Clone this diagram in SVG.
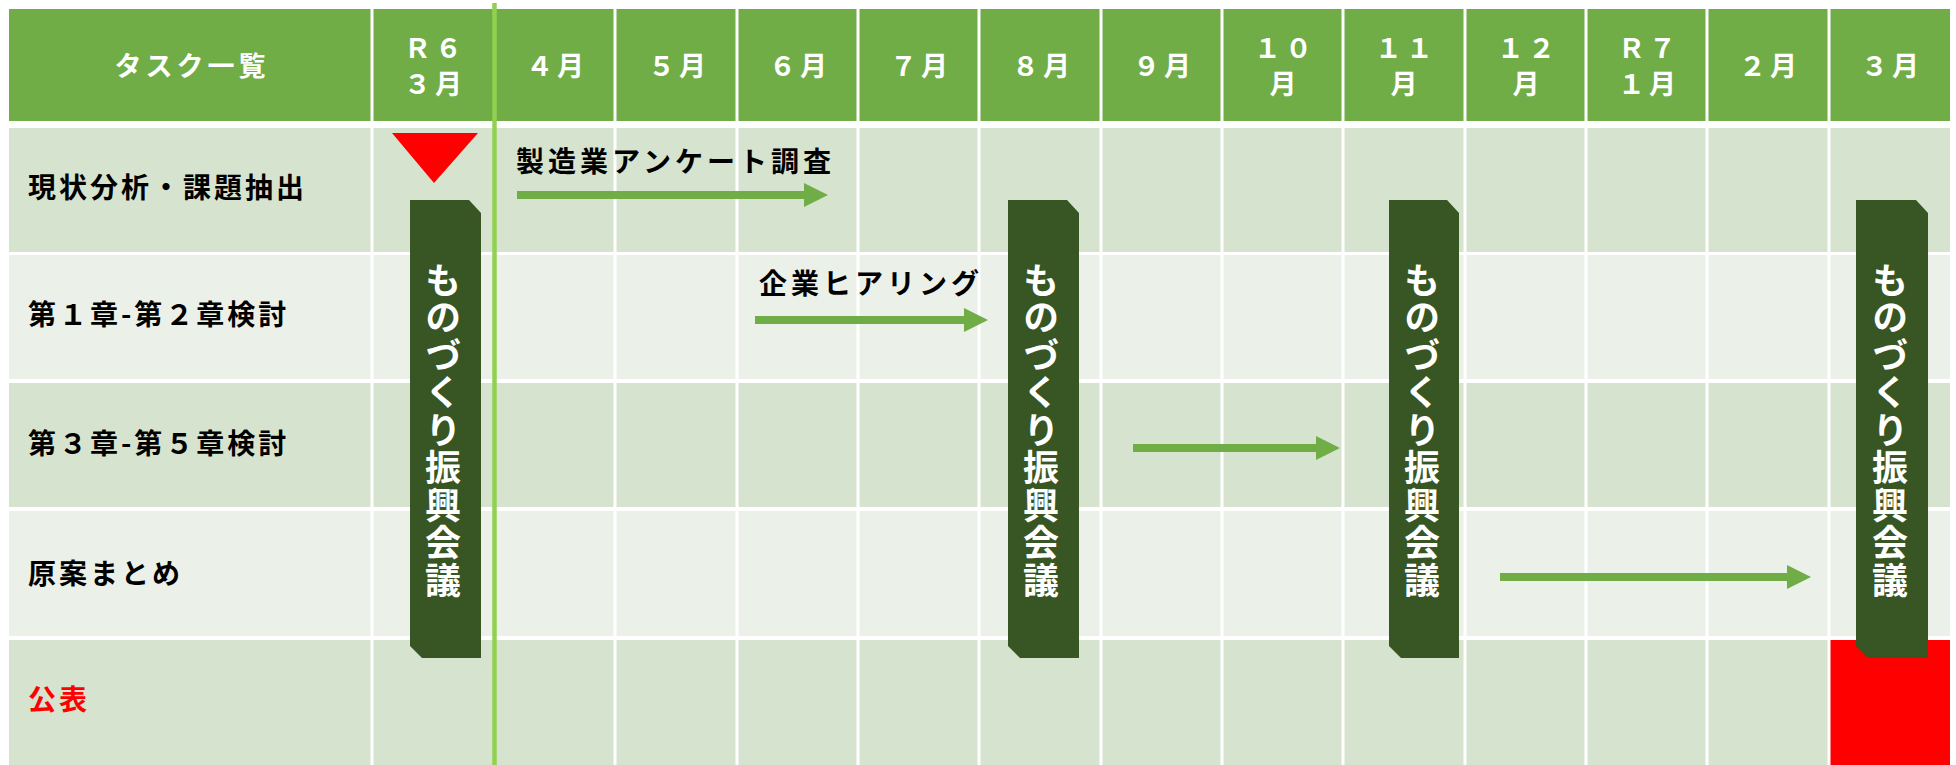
<svg xmlns="http://www.w3.org/2000/svg" width="1956" height="765" viewBox="0 0 1956 765">
<style>
.hd{fill:#70AD47}
.r1{fill:#D6E3CF}
.r2{fill:#EBF0E8}
.gl{stroke:#FFFFFF;stroke-width:3}
.ht{font-family:"Noto Sans CJK JP","Noto Sans",sans-serif;font-weight:bold;font-size:27px;fill:#FFFFFF;text-anchor:middle;letter-spacing:4px}
.lt{font-family:"Noto Sans CJK JP","Noto Sans",sans-serif;font-weight:bold;font-size:28px;fill:#000000;letter-spacing:3px}
.al{letter-spacing:4px}
.bar{fill:#375623}
.bt{font-family:"Noto Sans CJK JP","Noto Sans",sans-serif;font-weight:bold;font-size:36px;fill:#FFFFFF;text-anchor:middle;writing-mode:vertical-rl;letter-spacing:1.5px}
.arr{fill:#70AD47}
</style>
<rect width="1956" height="765" fill="#FFFFFF"/>
<g id="table">
<rect class="hd" x="9" y="9" width="1941" height="112"/>
<rect class="r1" x="9" y="128" width="1941" height="124"/>
<rect class="r2" x="9" y="255" width="1941" height="124"/>
<rect class="r1" x="9" y="383" width="1941" height="124"/>
<rect class="r2" x="9" y="511" width="1941" height="125"/>
<rect class="r1" x="9" y="640" width="1941" height="125"/>
<rect x="1830" y="640" width="120" height="125" fill="#FF0000"/>
<g class="gl">
<line x1="372" y1="9" x2="372" y2="765"/>
<line x1="615" y1="9" x2="615" y2="765"/>
<line x1="737" y1="9" x2="737" y2="765"/>
<line x1="858" y1="9" x2="858" y2="765"/>
<line x1="979" y1="9" x2="979" y2="765"/>
<line x1="1101" y1="9" x2="1101" y2="765"/>
<line x1="1222" y1="9" x2="1222" y2="765"/>
<line x1="1343" y1="9" x2="1343" y2="765"/>
<line x1="1465" y1="9" x2="1465" y2="765"/>
<line x1="1586" y1="9" x2="1586" y2="765"/>
<line x1="1707" y1="9" x2="1707" y2="765"/>
<line x1="1829" y1="9" x2="1829" y2="765"/>
</g>
<line x1="494.5" y1="3" x2="494.5" y2="765" stroke="#92D050" stroke-width="4.5"/>
</g>
<g id="header">
<text class="ht" x="192" y="76">タスク一覧</text>
<text class="ht" x="435" y="58">Ｒ６</text>
<text class="ht" x="435" y="94">３月</text>
<text class="ht" x="557" y="76">４月</text>
<text class="ht" x="679" y="76">５月</text>
<text class="ht" x="800" y="76">６月</text>
<text class="ht" x="921" y="76">７月</text>
<text class="ht" x="1043" y="76">８月</text>
<text class="ht" x="1164" y="76">９月</text>
<text class="ht" x="1285" y="58">１０</text>
<text class="ht" x="1285" y="94">月</text>
<text class="ht" x="1406" y="58">１１</text>
<text class="ht" x="1406" y="94">月</text>
<text class="ht" x="1528" y="58">１２</text>
<text class="ht" x="1528" y="94">月</text>
<text class="ht" x="1649" y="58">Ｒ７</text>
<text class="ht" x="1649" y="94">１月</text>
<text class="ht" x="1770" y="76">２月</text>
<text class="ht" x="1892" y="76">３月</text>
</g>
<g id="rows">
<text class="lt" x="28" y="198">現状分析・課題抽出</text>
<text class="lt" x="28" y="325">第１章-第２章検討</text>
<text class="lt" x="28" y="454">第３章-第５章検討</text>
<text class="lt" x="28" y="584">原案まとめ</text>
<text class="lt" x="28" y="710" style="fill:#FF0000">公表</text>
</g>
<g id="marker-start">
<polygon points="392,133 478,133 434,183" fill="#FF0000"/>
</g>
<g id="meeting1">
<path class="bar" d="M410,200 H469 L481,213 V658 H422 L410,646 Z"/>
<text class="bt" x="443" y="431">ものづくり振興会議</text>
</g>
<g id="meeting2">
<path class="bar" d="M1008,200 H1067 L1079,213 V658 H1020 L1008,646 Z"/>
<text class="bt" x="1041" y="431">ものづくり振興会議</text>
</g>
<g id="meeting3">
<path class="bar" d="M1389,200 H1447 L1459,213 V658 H1401 L1389,646 Z"/>
<text class="bt" x="1422" y="431">ものづくり振興会議</text>
</g>
<g id="meeting4">
<path class="bar" d="M1856,200 H1916 L1928,213 V658 H1868 L1856,646 Z"/>
<text class="bt" x="1890" y="431">ものづくり振興会議</text>
</g>
<g id="labels">
<text class="lt al" x="516" y="172">製造業アンケート調査</text>
<text class="lt al" x="759" y="294">企業ヒアリング</text>
</g>
<g id="connectors">
<path class="arr" d="M517,191 H804 V183 L828,195 L804,207 V199 H517 Z"/>
<path class="arr" d="M755,316 H964 V308 L988,320 L964,332 V324 H755 Z"/>
<path class="arr" d="M1133,444 H1316 V436 L1340,448 L1316,460 V452 H1133 Z"/>
<path class="arr" d="M1500,573 H1787 V565 L1811,577 L1787,589 V581 H1500 Z"/>
</g>
</svg>
